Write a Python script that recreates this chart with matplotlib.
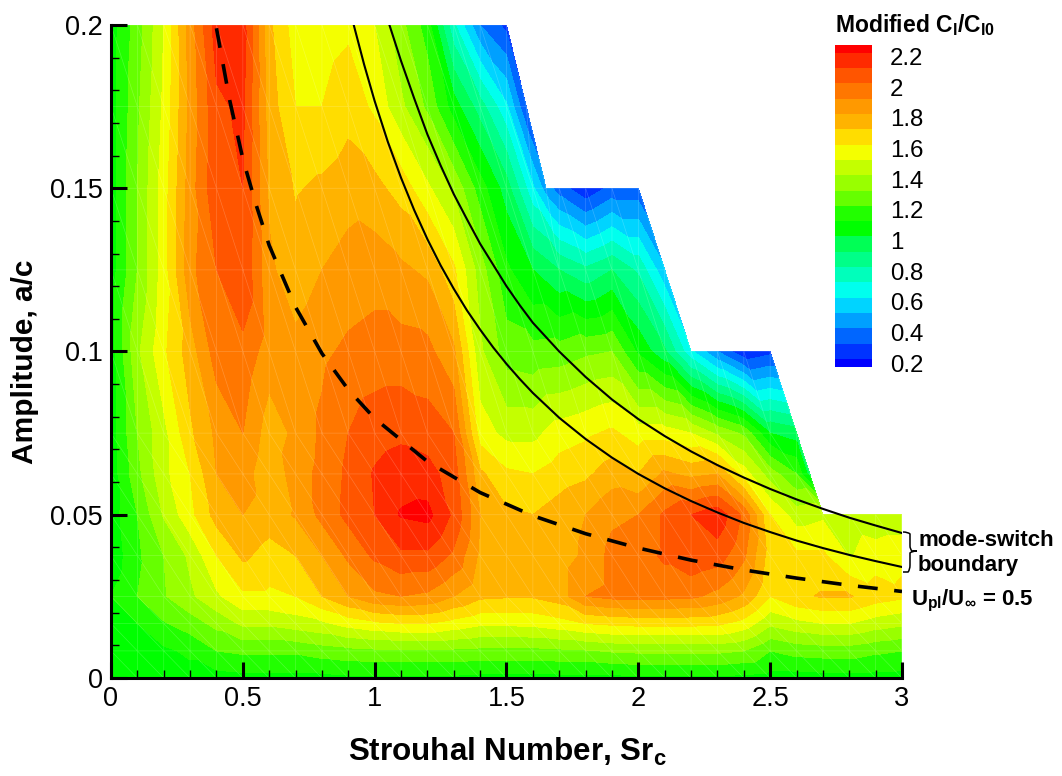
import numpy as np
import matplotlib
matplotlib.use("Agg")
import matplotlib.pyplot as plt
import matplotlib.tri as mtri
from matplotlib.colors import ListedColormap, BoundaryNorm
from matplotlib.patches import PathPatch
from matplotlib.path import Path
from matplotlib.ticker import MultipleLocator, FuncFormatter

plt.rcParams["font.family"] = ["Liberation Sans", "DejaVu Sans"]
plt.rcParams["mathtext.fontset"] = "custom"
plt.rcParams["mathtext.rm"] = "Liberation Sans:bold"
plt.rcParams["mathtext.bf"] = "Liberation Sans:bold"
plt.rcParams["mathtext.it"] = "Liberation Sans:bold"

# Strouhal number columns, each amplitude row below fills them from the left
sr_grid = [round(i * 0.1, 1) for i in range(31)]
amplitudes = [0.0, 0.0083, 0.0167, 0.025, 0.0375, 0.05, 0.0625, 0.075, 0.1, 0.125, 0.15, 0.175, 0.2]

row_000 = [1.04, 1.05, 1.05, 1.06, 1.06, 1.07, 1.07, 1.07, 1.07, 1.08, 1.08, 1.08, 1.08, 1.08, 1.07, 1.07,
           1.07, 1.07, 1.07, 1.07, 1.08, 1.08, 1.08, 1.08, 1.07, 1.06, 1.06, 1.06, 1.06, 1.06, 1.06]
row_008 = [1.03, 1.05, 1.08, 1.12, 1.2, 1.22, 1.22, 1.22, 1.25, 1.27, 1.28, 1.28, 1.28, 1.28, 1.27, 1.27,
           1.27, 1.28, 1.29, 1.31, 1.32, 1.32, 1.32, 1.32, 1.3, 1.2, 1.24, 1.25, 1.25, 1.22, 1.2]
row_017 = [1.07, 1.1, 1.19, 1.25, 1.33, 1.42, 1.42, 1.45, 1.48, 1.54, 1.58, 1.6, 1.6, 1.56, 1.52, 1.52,
           1.53, 1.56, 1.6, 1.62, 1.63, 1.63, 1.63, 1.62, 1.56, 1.42, 1.47, 1.5, 1.5, 1.45, 1.42]
row_025 = [1.1, 1.2, 1.29, 1.38, 1.48, 1.58, 1.58, 1.6, 1.7, 1.8, 1.88, 1.9, 1.88, 1.8, 1.72, 1.71,
           1.71, 1.75, 1.9, 1.93, 1.93, 1.93, 1.92, 1.87, 1.78, 1.6, 1.68, 1.71, 1.71, 1.65, 1.62]
row_038 = [1.03, 1.18, 1.3, 1.42, 1.6, 1.72, 1.66, 1.7, 1.8, 1.92, 2.02, 2.08, 2.08, 1.98, 1.78, 1.72,
           1.72, 1.75, 1.82, 1.93, 1.95, 2.02, 2.08, 2.05, 1.92, 1.65, 1.62, 1.62, 1.49, 1.55, 1.58]
row_050 = [1.05, 1.2, 1.41, 1.57, 1.74, 1.8, 1.75, 1.81, 1.93, 2.03, 2.1, 2.21, 2.23, 2.08, 1.8, 1.72,
           1.7, 1.75, 1.8, 1.88, 1.9, 2.02, 2.1, 2.17, 1.98, 1.6, 1.45, 1.48, 1.45, 1.42, 1.42]
row_062 = [1.04, 1.27, 1.47, 1.6, 1.8, 1.85, 1.72, 1.85, 1.93, 2.02, 2.11, 2.15, 2.14, 2.05, 1.72, 1.62,
           1.6, 1.65, 1.68, 1.75, 1.7, 1.82, 1.77, 1.8, 1.55, 1.35, 1.2]
row_075 = [1.05, 1.3, 1.47, 1.68, 1.82, 1.9, 1.75, 1.82, 1.92, 2.0, 2.06, 2.08, 2.05, 2.0, 1.55, 1.47,
           1.47, 1.55, 1.58, 1.62, 1.55, 1.55, 1.5, 1.38, 1.28, 1.0, 0.95]
row_100 = [1.05, 1.38, 1.58, 1.75, 1.95, 1.97, 1.85, 1.83, 1.88, 1.92, 1.94, 1.94, 1.93, 1.82, 1.42, 1.25,
           1.23, 1.24, 1.28, 1.3, 1.08, 0.92, 0.62, 0.4, 0.22, 0.27]
row_125 = [1.05, 1.3, 1.55, 1.87, 2.0, 2.09, 1.82, 1.74, 1.8, 1.84, 1.86, 1.82, 1.78, 1.62, 1.35, 1.12,
           1.0, 0.9, 0.82, 0.9, 0.78, 0.52]
row_150 = [1.05, 1.3, 1.55, 1.85, 2.08, 2.1, 1.78, 1.69, 1.72, 1.76, 1.73, 1.66, 1.52, 1.38, 1.15, 0.95,
           0.62, 0.35, 0.22, 0.33, 0.33]
row_175 = [1.05, 1.28, 1.52, 1.83, 2.08, 2.12, 1.75, 1.6, 1.6, 1.66, 1.58, 1.42, 1.28, 1.05, 0.85, 0.62]
row_200 = [1.05, 1.25, 1.5, 1.85, 2.15, 2.15, 1.72, 1.55, 1.55, 1.58, 1.5, 1.33, 1.15, 0.72, 0.4, 0.27]
rows = [row_000, row_008, row_017, row_025, row_038, row_050, row_062, row_075, row_100, row_125, row_150,
        row_175, row_200]

# samples on the slanted edges that fall between the Sr columns
edge_sr = [1.575, 1.65, 2.65]
edge_a = [0.175, 0.15, 0.0625]
edge_row = [11, 10, 6]
edge_val = [0.3, 0.45, 0.95]

# outer edge of the tested region
outline_sr = [0, 3, 3, 2.7, 2.5, 2.2, 2.0, 1.65, 1.5, 0]
outline_a = [0, 0, 0.05, 0.05, 0.1, 0.1, 0.15, 0.15, 0.2, 0.2]

# curves
dash_sr = [0.4, 0.45, 0.5, 0.55, 0.6, 0.7, 0.8, 0.9, 1.0, 1.2, 1.4, 1.6, 1.8, 2.0, 2.2, 2.4, 2.6, 2.8, 3.0]
dash_a = [0.199, 0.177, 0.159, 0.145, 0.1325, 0.1136, 0.0994, 0.0883, 0.0795, 0.0663, 0.0568, 0.0497,
          0.0442, 0.0398, 0.0361, 0.0331, 0.0306, 0.0284, 0.0265]
lower_sr = [0.92, 0.96, 1.0, 1.05, 1.1, 1.15, 1.2, 1.25, 1.3, 1.35, 1.4, 1.45, 1.5, 1.55, 1.6, 1.7, 1.8, 1.9,
            2.0, 2.1, 2.2, 2.3, 2.4, 2.5, 2.6, 2.7, 2.8, 2.9, 3.0]
lower_a = [0.2002, 0.1879, 0.1767, 0.1642, 0.1532, 0.1433, 0.1344, 0.1264, 0.1192, 0.1126, 0.1067, 0.1012,
           0.0962, 0.0916, 0.0873, 0.0797, 0.0732, 0.0675, 0.0625, 0.0581, 0.0542, 0.0507, 0.0475, 0.0447,
           0.0421, 0.0398, 0.0377, 0.0358, 0.034]
upper_sr = [1.05, 1.1, 1.15, 1.2, 1.25, 1.3, 1.35, 1.4, 1.45, 1.5, 1.55, 1.6, 1.7, 1.8, 1.9, 2.0, 2.1, 2.2,
            2.3, 2.4, 2.5, 2.6, 2.7, 2.8, 2.9, 3.0]
upper_a = [0.2015, 0.189, 0.1775, 0.1665, 0.157, 0.1482, 0.1405, 0.133, 0.1265, 0.12, 0.1142, 0.1088, 0.1,
           0.0922, 0.0853, 0.0793, 0.0741, 0.0694, 0.0652, 0.0614, 0.0579, 0.0547, 0.0518, 0.0491, 0.0467,
           0.0444]

levels = [round(0.2 + 0.1 * i, 1) for i in range(21)]
legend_labels = [0.2, 0.4, 0.6, 0.8, 1.0, 1.2, 1.4, 1.6, 1.8, 2.0, 2.2]
band_colors = ["#0000ff", "#0033ff", "#0066ff", "#00a0ff", "#00d4ff", "#00ffee", "#00ffbb", "#00ff88",
               "#00ff55", "#00ff00", "#22ff00", "#66ff00", "#99ff00", "#c4ff00", "#f4ff00", "#ffdd00",
               "#ffb300", "#ff9900", "#ff7700", "#ff5500", "#ff2a00", "#ff0000"]

W, H = 1062, 776


def fx(px):
    return px / W


def fy(py):
    return 1 - py / H


fig = plt.figure(figsize=(W / 100, H / 100), dpi=100)
ax = fig.add_axes([fx(111), fy(678), 791 / W, 653 / H])

sr_pts, a_pts, z_pts, row_idx = [], [], [], []
for j, (a, row) in enumerate(zip(amplitudes, rows)):
    for s, v in zip(sr_grid, row):
        sr_pts.append(s)
        a_pts.append(a)
        z_pts.append(v)
        row_idx.append(j)
sr_pts = np.array(sr_pts + edge_sr)
a_pts = np.array(a_pts + edge_a)
z_pts = np.array(z_pts + edge_val)
row_idx = np.array(row_idx + edge_row, dtype=float)

# mesh built in sheared index space so all diagonals lean the same way
index_mesh = mtri.Triangulation(sr_pts * 10 + 0.3 * row_idx, row_idx)
tri_nodes = index_mesh.triangles
centroids = np.column_stack([sr_pts[tri_nodes].mean(axis=1), a_pts[tri_nodes].mean(axis=1)])
region = Path(np.column_stack([outline_sr, outline_a]))
inside = region.contains_points(centroids)
mesh = mtri.Triangulation(sr_pts, a_pts, tri_nodes, mask=~inside)

ax.tricontourf(mesh, z_pts, levels=levels, colors=band_colors, extend="both")
ax.triplot(mesh, color="white", lw=0.5, alpha=0.2)

ax.plot(upper_sr, upper_a, color="black", lw=1.5)
ax.plot(lower_sr, lower_a, color="black", lw=1.5)
ax.plot(dash_sr, dash_a, color="black", lw=2.6, linestyle=(0, (5.5, 4.6)), dash_capstyle="butt")

ax.set_xlim(0, 3)
ax.set_ylim(0, 0.2)
ax.spines["top"].set_visible(False)
ax.spines["right"].set_visible(False)
ax.spines["left"].set_linewidth(2.2)
ax.spines["bottom"].set_linewidth(2.2)
ax.xaxis.set_major_locator(MultipleLocator(0.5))
ax.xaxis.set_minor_locator(MultipleLocator(0.1))
ax.yaxis.set_major_locator(MultipleLocator(0.05))
ax.yaxis.set_minor_locator(MultipleLocator(0.01))
ax.xaxis.set_major_formatter(FuncFormatter(lambda v, p: f"{v:g}"))
ax.yaxis.set_major_formatter(FuncFormatter(lambda v, p: f"{v:g}"))
ax.tick_params(which="major", direction="in", length=11.5, width=2.2, labelsize=19.5, pad=6)
ax.tick_params(which="minor", direction="in", length=6, width=1.0)
for t in ax.xaxis.get_major_ticks() + ax.yaxis.get_major_ticks() + ax.xaxis.get_minor_ticks() + ax.yaxis.get_minor_ticks():
    t.tick1line.set_clip_on(False)

fig.text(fx(507), fy(752), r"Strouhal Number, Sr$_{\mathbf{c}}$", fontsize=22.6, fontweight="bold",
         ha="center", va="center")
fig.text(fx(25), fy(362), "Amplitude, a/c", fontsize=21.5, fontweight="bold", rotation=90,
         ha="center", va="center")

# legend bar, bands are in value units so the edges line up with the contour levels
cax = fig.add_axes([fx(835), fy(367), 37 / W, 322 / H])
edges = [0.148] + levels + [2.25]
cmap = ListedColormap(band_colors)
cax.pcolormesh([0, 1], edges, np.arange(22).reshape(-1, 1), cmap=cmap,
               norm=BoundaryNorm(np.arange(-0.5, 22.5), 22))
cax.set_ylim(0.148, 2.25)
cax.set_xticks([])
cax.yaxis.tick_right()
cax.set_yticks([v - 0.026 for v in legend_labels])
cax.set_yticklabels([f"{v:g}" for v in legend_labels], fontsize=17.3)
cax.tick_params(axis="y", length=0, pad=13)
for s in cax.spines.values():
    s.set_visible(False)

fig.text(fx(835), fy(25), r"Modified C$_{\mathbf{l}}$/C$_{\mathbf{l0}}$", fontsize=16.5, fontweight="bold",
         ha="left", va="center")

# curly brace next to the two solid curves
brace_verts = [(903, 532), (908, 532), (910, 534), (910, 539), (910, 546), (910, 549), (912, 551), (917, 551),
               (912, 551), (910, 553), (910, 556), (910, 565), (910, 570), (908, 572), (903, 572)]
brace_codes = [Path.MOVETO, Path.CURVE3, Path.CURVE3, Path.CURVE3, Path.LINETO, Path.CURVE3, Path.CURVE3,
               Path.LINETO, Path.CURVE3, Path.CURVE3, Path.CURVE3, Path.LINETO, Path.CURVE3, Path.CURVE3,
               Path.LINETO]
brace_fig = [(fx(x), fy(y)) for x, y in brace_verts]
fig.add_artist(PathPatch(Path(brace_fig, brace_codes), transform=fig.transFigure, fill=False, lw=1.1,
                         edgecolor="black"))

fig.text(fx(918), fy(541), "mode-switch", fontsize=16, fontweight="bold", ha="left", va="center")
fig.text(fx(918), fy(565), "boundary", fontsize=16, fontweight="bold", ha="left", va="center")
fig.text(fx(911), fy(601), r"U$_{\mathbf{pl}}$/U$_{\infty}$ = 0.5", fontsize=16, fontweight="bold",
         ha="left", va="center")

fig.savefig("out.png", dpi=100)
